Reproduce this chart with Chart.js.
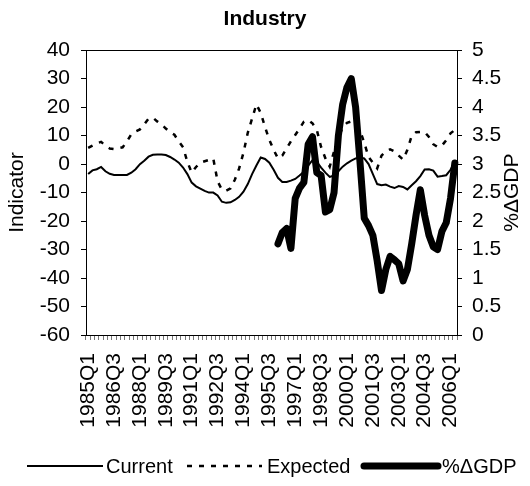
<!DOCTYPE html>
<html>
<head>
<meta charset="utf-8">
<script src="https://cdn.jsdelivr.net/npm/chart.js@4/dist/chart.umd.min.js"></script>
<style>
  html, body { margin: 0; padding: 0; background: #fff; }
  #wrap { width: 530px; height: 486px; }
</style>
</head>
<body>
<div id="wrap"><canvas id="c" width="530" height="486"></canvas></div>
<script>
// Quarterly periods, 1985Q1 .. 2006Q2
const firstYear = 1985;
const quarterCount = 86;
const quarters = [];
for (let i = 0; i < quarterCount; i++) {
  quarters.push((firstYear + Math.floor(i / 4)) + 'Q' + (i % 4 + 1));
}

// Industry confidence indicator: current situation (left axis)
const current = [
  -3.5, -2.2, -1.8, -1.0, -2.5, -3.4, -3.8, -3.8, -3.8, -3.8,
  -3.0, -1.8, 0.0, 1.2, 2.6, 3.3, 3.4, 3.4, 3.2, 2.5,
  1.6, 0.5, -1.2, -3.5, -6.5, -7.8, -8.6, -9.4, -10.0, -10.0,
  -11.0, -13.2, -13.6, -13.4, -12.6, -11.5, -9.7, -7.0, -3.5, -0.5,
  2.3, 1.8, 0.5, -2.0, -4.8, -6.3, -6.3, -5.8, -5.2, -4.0,
  -2.7, -0.5, 1.4, 0.8, -1.2, -3.0, -4.5, -4.0, -2.5, -0.9,
  0.3, 1.2, 2.0, 2.3, 2.0, 0.0, -3.5, -7.0, -7.4, -7.2,
  -7.9, -8.4, -7.7, -8.0, -8.9, -7.4, -6.0, -4.2, -1.9, -1.8,
  -2.3, -4.4, -4.2, -3.9, -2.0, 0.8
];

// Industry confidence indicator: expectations (left axis)
const expected = [
  5.7, 6.5, 7.3, 7.8, 6.5, 5.5, 5.3, 5.6, 5.9, 8.0,
  10.5, 11.5, 12.2, 14.0, 16.0, 16.3, 15.0, 14.0, 12.5, 11.2,
  10.3, 8.0, 5.9, 0.8, -3.0, -1.0, 0.5, 1.0, 1.5, 2.0,
  -6.0, -9.0, -9.3, -8.5, -5.5, -1.5, 4.0, 11.0, 16.0, 21.0,
  18.0, 13.0, 8.5, 5.0, 2.0, 3.0, 5.5, 8.0, 10.2, 12.5,
  14.9, 15.5, 14.3, 12.0, 6.0, 2.0, -0.9, 4.5, 9.0, 13.0,
  14.5, 15.0, 14.0, 12.0, 7.5, 2.5, 0.5, -1.5, 3.0, 4.5,
  5.2, 4.5, 3.0, 1.6, 5.0, 10.0, 11.2, 11.3, 11.3, 9.5,
  7.0, 6.0, 6.5, 8.4, 10.8, 12.0
];

// Year-on-year GDP growth in %, available from 1996Q1 (right axis)
const gdpStart = '1996Q1';
const gdpGrowth = [
  1.6, 1.8, 1.87, 1.52, 2.4, 2.58, 2.68, 3.35, 3.48, 2.85,
  2.8, 2.16, 2.2, 2.5, 3.5, 4.05, 4.35, 4.5, 4.0, 3.05,
  2.05, 1.92, 1.75, 1.3, 0.78, 1.15, 1.38, 1.32, 1.25, 0.95,
  1.15, 1.6, 2.1, 2.55, 2.1, 1.75, 1.55, 1.5, 1.82, 1.97,
  2.4, 3.02
];

const leftTicks = { min: -60, max: 40, step: 10 };
const rightTicks = { min: 0, max: 5, step: 0.5 };
const labelEvery = 6;
const rightTitle = '%\u0394GDP';

const gdpSeries = quarters.map((q, i) => {
  const k = i - quarters.indexOf(gdpStart);
  return k >= 0 && k < gdpGrowth.length ? gdpGrowth[k] : null;
});

const FONT = '"Liberation Sans", Arial, sans-serif';
const TICK_FONT = { family: FONT, size: 21 };

// Legend along the bottom edge with long line samples,
// plus the right axis title written bottom-to-top
const extras = {
  id: 'extras',
  afterDraw(chart) {
    const ctx = chart.ctx;
    const y = 466;
    const items = [
      { ds: 0, x0: 27, x1: 103, tx: 106 },
      { ds: 1, x0: 187, x1: 262, tx: 267 },
      { ds: 2, x0: 364, x1: 438, tx: 442 }
    ];
    ctx.save();
    items.forEach(it => {
      const d = chart.data.datasets[it.ds];
      ctx.beginPath();
      ctx.strokeStyle = d.borderColor;
      ctx.lineWidth = d.borderWidth;
      ctx.setLineDash(d.borderDash || []);
      ctx.lineCap = d.borderCapStyle || 'butt';
      ctx.moveTo(it.x0, y);
      ctx.lineTo(it.x1, y);
      ctx.stroke();
      ctx.setLineDash([]);
      ctx.fillStyle = '#000';
      ctx.font = '20px ' + FONT;
      ctx.textAlign = 'left';
      ctx.textBaseline = 'middle';
      ctx.fillText(d.label, it.tx, y + 1);
    });

    const a = chart.chartArea;
    ctx.translate(512, (a.top + a.bottom) / 2);
    ctx.rotate(-Math.PI / 2);
    ctx.font = '21px ' + FONT;
    ctx.textAlign = 'center';
    ctx.textBaseline = 'middle';
    ctx.fillText(rightTitle, 0, 0);
    ctx.restore();
  }
};

new Chart(document.getElementById('c'), {
  type: 'line',
  data: {
    labels: quarters,
    datasets: [
      {
        label: 'Current', data: current, yAxisID: 'y',
        borderColor: '#000', borderWidth: 2, pointRadius: 0, tension: 0, order: 2
      },
      {
        label: 'Expected', data: expected, yAxisID: 'y',
        borderColor: '#000', borderWidth: 2.5, borderDash: [5, 7],
        pointRadius: 0, tension: 0, order: 1
      },
      {
        label: rightTitle, data: gdpSeries, yAxisID: 'y1',
        borderColor: '#000', borderWidth: 7, borderJoinStyle: 'round',
        borderCapStyle: 'round', pointRadius: 0, tension: 0, order: 0,
        spanGaps: false
      }
    ]
  },
  options: {
    responsive: false,
    devicePixelRatio: 1,
    animation: false,
    layout: { padding: { left: 0, right: 0, top: 0, bottom: 40 } },
    plugins: {
      legend: { display: false },
      tooltip: { enabled: false },
      title: {
        display: true,
        text: 'Industry',
        color: '#000',
        font: { family: FONT, size: 21, weight: 'bold', lineHeight: 1.2 },
        padding: { top: 7, bottom: 18 }
      }
    },
    scales: {
      x: {
        type: 'category',
        offset: true,
        border: { display: true, color: '#000', width: 1 },
        grid: {
          display: true, drawOnChartArea: false, drawTicks: true,
          tickLength: 5, offset: true, tickColor: '#777', tickWidth: 1
        },
        ticks: {
          autoSkip: false, minRotation: 90, maxRotation: 90, padding: 13,
          color: '#000', font: TICK_FONT,
          callback: (v, i) => (i % labelEvery === 0 ? quarters[i] : '')
        },
        afterFit: s => { s.height = 111; }
      },
      y: {
        position: 'left',
        min: leftTicks.min, max: leftTicks.max,
        border: { display: true, color: '#000', width: 1 },
        grid: {
          drawOnChartArea: true, drawTicks: true, tickLength: 5,
          color: c => (c.tick && c.tick.value === leftTicks.max ? '#000' : 'rgba(0,0,0,0)'),
          tickColor: '#000'
        },
        ticks: {
          stepSize: leftTicks.step, padding: 11, color: '#000', font: TICK_FONT
        },
        title: {
          display: true, text: 'Indicator', color: '#000',
          font: { family: FONT, size: 21 }, padding: { top: 5, bottom: 0 }
        },
        afterFit: s => { s.width = 86; }
      },
      y1: {
        position: 'right',
        min: rightTicks.min, max: rightTicks.max,
        border: { display: true, color: '#000', width: 1 },
        grid: { drawOnChartArea: false, drawTicks: true, tickLength: 5, tickColor: '#000' },
        ticks: {
          stepSize: rightTicks.step, padding: 10, color: '#000', font: TICK_FONT,
          callback: v => String(Math.round(v * 10) / 10)
        },
        title: { display: false },
        afterFit: s => { s.width = 73; }
      }
    }
  },
  plugins: [extras]
});
</script>
</body>
</html>
